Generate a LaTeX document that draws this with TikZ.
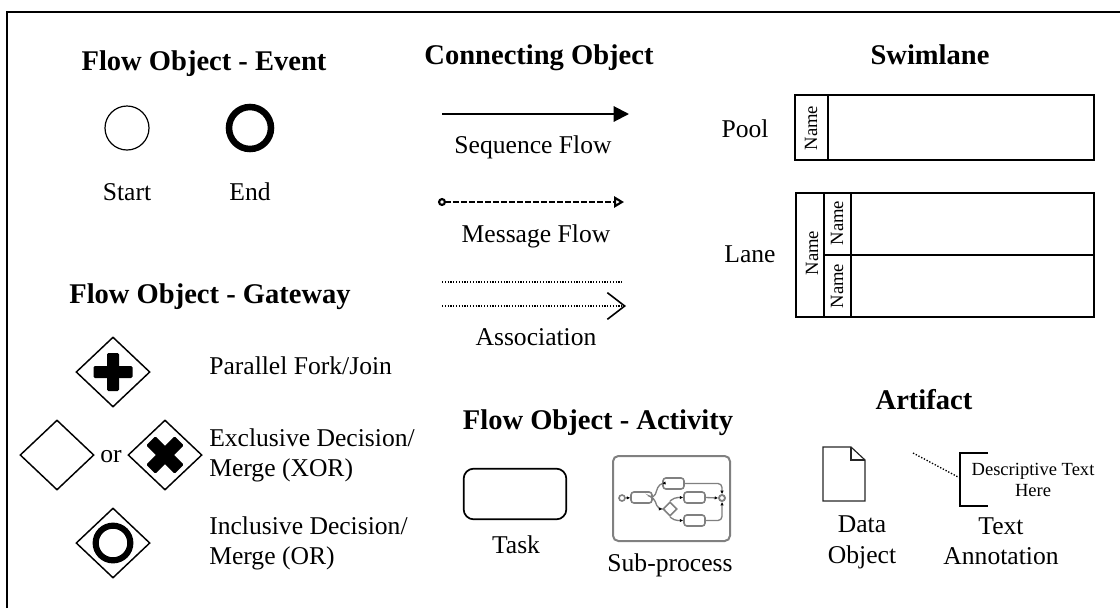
\documentclass[tikz,border=0pt]{standalone}
\usepackage{fontspec}
\setmainfont{Liberation Serif}
\usetikzlibrary{arrows.meta,shapes.geometric}
\tikzset{
  body/.style={inner sep=0pt,anchor=base,font=\fontsize{19.2}{23}\selectfont},
  bodyl/.style={body,anchor=base west},
  title/.style={inner sep=0pt,anchor=base,font=\fontsize{21.4}{26}\selectfont\bfseries},
  small/.style={inner sep=0pt,anchor=base,font=\fontsize{13.9}{16}\selectfont},
  vname/.style={inner sep=0pt,rotate=90,font=\fontsize{14}{16}\selectfont},
  gate/.style={diamond,draw=black,line width=1.1pt,minimum width=55.5pt,minimum height=52.5pt,inner sep=0pt,aspect=1.06},
  evt/.style={circle,draw=black,inner sep=0pt},
  lane/.style={draw=black,line width=1.5pt},
  sub/.style={draw=black!50,line width=1.2pt},
  subtask/.style={sub,rectangle,rounded corners=2.2pt,minimum width=15.75pt,minimum height=8.25pt,inner sep=0pt},
  subflow/.style={draw=black!50,line width=1pt,rounded corners=3pt,-{Latex[length=2.5pt,width=2.5pt,black]}},
}
\begin{document}
\begin{tikzpicture}[x=0.75pt,y=-0.75pt]
\useasboundingbox (0,0) rectangle (1120,608);
\coordinate (fa) at (7,608); \coordinate (fb) at (7,12); \coordinate (fc) at (1120,12);
\draw[black,line width=1.5pt] (fa) -- (fb) -- (fc);

% Event
\node[title] (t1) at (204,70) {Flow Object - Event};
\node[evt,line width=.9pt,minimum size=33pt] (start) at (127,128) {};
\node[evt,line width=4.9pt,minimum size=31.5pt] (end) at (250,128) {};
\node[body] (l1) at (127,200) {Start};
\node[body] (l2) at (250,200) {End};

% Connecting
\node[title] (t2) at (539,64) {Connecting Object};
\coordinate (s1) at (442,114); \coordinate (s2) at (629,114);
\draw[line width=1.5pt,-{Triangle[length=11.5pt,width=11.5pt]}] (s1) -- (s2);
\node[body] (l3) at (533,153) {Sequence Flow};
\coordinate (m1) at (438,202); \coordinate (m2) at (624,202);
\draw[line width=1.2pt,dash pattern=on 4.2pt off 1.8pt,{Circle[open,length=6pt,width=6pt,line width=1.6pt,sep=0pt]}-{Triangle[open,length=7.5pt,width=8.5pt,line width=1.6pt]}] (m1) -- (m2);
\node[body] (l4) at (536,242) {Message Flow};
\coordinate (a1) at (442,282); \coordinate (a2) at (622,282);
\draw[line width=1pt,dash pattern=on .9pt off 1.2pt] (a1) -- (a2);
\coordinate (a3) at (442,306); \coordinate (a4) at (626,306);
\draw[line width=1pt,dash pattern=on .9pt off 1.2pt,-{Straight Barb[length=13pt,width=20pt,line width=1.2pt]}] (a3) -- (a4);
\node[body] (l5) at (536,345) {Association};

% Swimlane
\node[title] (t3) at (930,64) {Swimlane};
\node[body] (l6) at (745,137) {Pool};
\draw[lane] (795,95) rectangle (1094,160);
\draw[lane] (828,95) -- (828,160);
\node[vname] (n1) at (811,128) {Name};
\node[body] (l7) at (750,262) {Lane};
\draw[lane] (796,193) rectangle (1094,317);
\draw[lane] (824,193) -- (824,317);
\draw[lane] (851,193) -- (851,317);
\draw[lane] (824,255) -- (1094,255);
\node[vname] (n2) at (812,253) {Name};
\node[vname] (n3) at (837,223) {Name};
\node[vname] (n4) at (837,286) {Name};

% Gateway
\node[title] (t4) at (210,303) {Flow Object - Gateway};
\node[gate] (g1) at (113,372) {};
\fill[black,rounded corners=1pt] (107,353) rectangle (119,391);
\fill[black,rounded corners=1pt] (93.5,366) rectangle (132.5,378);
\node[gate] (g2) at (57,455) {};
\node[body] (or) at (111,462) {or};
\node[gate] (g3) at (165,455) {};
\begin{scope}[shift={(165,455)},rotate=45]
\fill[black,rounded corners=1pt] (-6.5,-20) rectangle (6.5,20);
\fill[black,rounded corners=1pt] (-20,-6.5) rectangle (20,6.5);
\end{scope}
\node[gate] (g4) at (113,543) {};
\node[evt,line width=4.6pt,minimum size=26pt] (g4c) at (113,543) {};
\node[bodyl] (p1) at (209,374) {Parallel Fork/Join};
\node[bodyl] (p2) at (209,446) {Exclusive Decision/};
\node[bodyl] (p3) at (209,476) {Merge (XOR)};
\node[bodyl] (p4) at (209,534) {Inclusive Decision/};
\node[bodyl] (p5) at (209,564) {Merge (OR)};

% Activity
\node[title] (t5) at (598,429) {Flow Object - Activity};
\node[draw=black,line width=1.3pt,rounded corners=7.5pt,minimum width=77pt,minimum height=38pt,inner sep=0pt] (task) at (515,494) {};
\node[body] (l8) at (516,553) {Task};
\node[sub,rounded corners=4pt,line width=1.5pt,minimum width=87.75pt,minimum height=63.75pt,inner sep=0pt] (sp) at (671.5,498.5) {};
\node[sub,circle,minimum size=4.5pt,inner sep=0pt] (c1) at (622,498) {};
\node[subtask] (a) at (641.5,497.5) {};
\node[subtask] (b) at (673.5,483.5) {};
\node[subtask] (c) at (694.5,497.5) {};
\node[subtask] (d) at (694.5,520.5) {};
\node[sub,diamond,minimum size=10.5pt,inner sep=0pt] (gw) at (670,509) {};
\node[sub,circle,minimum size=4.5pt,inner sep=0pt,line width=1.4pt] (c2) at (722,498) {};
\draw[subflow] (c1) -- (a);
\draw[subflow] (a.east) -- (654,498) -- (659,484) -- (b.west);
\draw[subflow] (a.east) -- (654,498) -- (658,509) -- (gw.west);
\draw[subflow] (gw.north) -- (674,497.5) -- (c.west);
\draw[subflow] (gw.south) -- (674,520.5) -- (d.west);
\draw[subflow] (b.east) -- (722,483.5) -- (c2.north);
\draw[subflow] (c.east) -- (c2.west);
\draw[subflow] (d.east) -- (722,520.5) -- (c2.south);
\node[body] (l9) at (670,571) {Sub-process};

% Artifact
\node[title] (t6) at (924,409) {Artifact};
\draw[line width=.9pt,black!85] (823,447) -- (851,447) -- (865,460) -- (865,501) -- (823,501) -- cycle;
\draw[line width=.9pt,black!85] (851,447) -- (851,460) -- (865,460);
\node[body] (l10) at (862,532) {Data};
\node[body] (l11) at (862,563) {Object};
\coordinate (b1) at (988,453); \coordinate (b2) at (960,453); \coordinate (b3) at (960,506); \coordinate (b4) at (988,506);
\draw[line width=1.5pt] (b1) -- (b2) -- (b3) -- (b4);
\coordinate (d1) at (913,453); \coordinate (d2) at (960,478);
\draw[line width=1pt,dash pattern=on 1pt off 1.3pt] (d1) -- (d2);
\node[small] (s3) at (1033,475) {Descriptive Text};
\node[small] (s4) at (1033,496) {Here};
\node[body] (l12) at (1001,534) {Text};
\node[body] (l13) at (1001,564) {Annotation};
\end{tikzpicture}
\end{document}
